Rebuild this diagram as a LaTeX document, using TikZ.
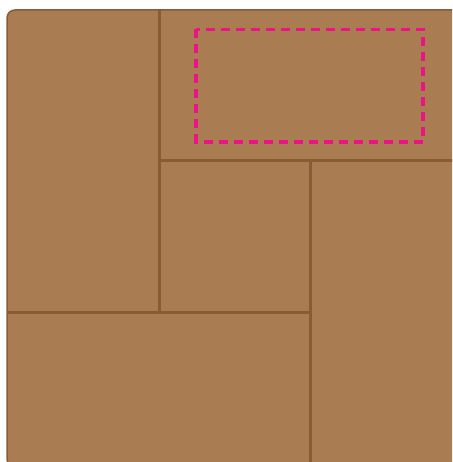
\documentclass[tikz,border=0pt]{standalone}
\usepackage{tikz}

\definecolor{cork}{HTML}{A97C52}
\definecolor{seam}{HTML}{8A5B34}
\definecolor{mark}{HTML}{EC1485}

\tikzstyle{board} = [fill=cork, draw=seam, line width=1.5pt, rounded corners=8pt]
\tikzstyle{cut} = [draw=seam, line width=3pt]
\tikzstyle{pick} = [draw=mark, line width=3.8pt, dash pattern=on 9pt off 6pt]

\begin{document}
\begin{tikzpicture}[x=1pt, y=-1pt]
\useasboundingbox (0,0) rectangle (452,462);
\clip (0,0) rectangle (452,462);
% the board
\draw[board] (7,10) rectangle (470,467);
% corners of the pieces
\coordinate (top) at (159,10);
\coordinate (mid) at (159,312);
\coordinate (right) at (460,161);
\coordinate (hub) at (159,161);
\coordinate (low) at (310,161);
\coordinate (base) at (310,470);
\coordinate (left) at (7,312);
\coordinate (joint) at (310,312);
\draw[cut] (top) -- (mid);
\draw[cut] (hub) -- (right);
\draw[cut] (low) -- (base);
\draw[cut] (left) -- (joint);
% chosen area
\draw[pick] (196,29.5) rectangle (423,142);
\end{tikzpicture}
\end{document}
